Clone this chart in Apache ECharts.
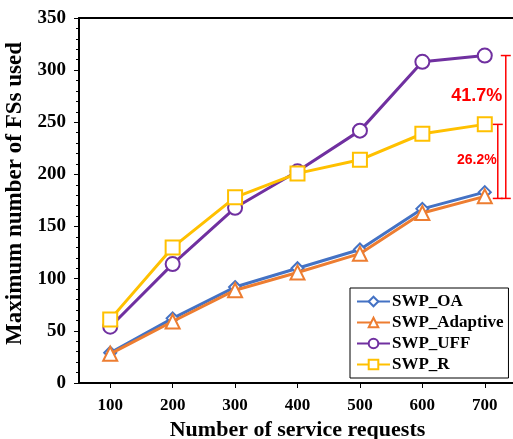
<!DOCTYPE html>
<html>
<head>
<meta charset="utf-8">
<script src="https://cdn.jsdelivr.net/npm/echarts@6/dist/echarts.min.js"></script>
<style>
html,body{margin:0;padding:0;background:#fff;}
#c{width:513px;height:439px;}
</style>
</head>
<body>
<div id="c"></div>
<script>
const categories = ['100', '200', '300', '400', '500', '600', '700'];
const swpOA = [29, 62, 92, 110, 128, 167, 183];
const swpAdaptive = [28, 59, 89, 106, 124, 163, 179];
const swpUFF = [54, 114, 168, 203, 242, 308, 314];
const swpR = [61, 130, 178, 201, 214, 239, 248];
const yMin = 0, yMax = 350, yStep = 50;
const bracketBase = 177;
const seriesNames = ['SWP_OA', 'SWP_Adaptive', 'SWP_UFF', 'SWP_R'];

const last = categories.length - 1;
const gainUFF = ((swpUFF[last] - swpOA[last]) / swpUFF[last] * 100).toFixed(1) + '%';
const gainR = ((swpR[last] - swpOA[last]) / swpR[last] * 100).toFixed(1) + '%';
const brackets = [
  [categories[last], swpUFF[last], bracketBase, gainUFF],
  [categories[last], swpR[last], bracketBase, gainR]
];

const serif = '"Liberation Serif", "Times New Roman", serif';
const sans = '"Liberation Sans", Arial, sans-serif';
const colors = ['#4472C4', '#ED7D31', '#7030A0', '#FFC000'];
const symbols = ['diamond', 'triangle', 'circle', 'rect'];
const sizes = [12, 14, 14, 14];
const values = [swpOA, swpAdaptive, swpUFF, swpR];

const bracketStyle = [
  {dx: 21, lx: -8, ly: 40, fs: 18},
  {dx: 13, lx: -8, ly: 36, fs: 14}
];

const chart = echarts.init(document.getElementById('c'), null, {renderer: 'canvas'});

const lineSeries = seriesNames.map((n, i) => ({
  name: n,
  type: 'line',
  data: values[i],
  symbol: symbols[i],
  symbolSize: sizes[i],
  showAllSymbol: true,
  z: 2 + i,
  lineStyle: {color: colors[i], width: 3},
  itemStyle: {color: '#fff', borderColor: colors[i], borderWidth: 2},
  emphasis: {disabled: true},
  animation: false
}));

const option = {
  animation: false,
  backgroundColor: '#fff',
  grid: {left: 79, top: 18, bottom: 56, right: -3, outerBoundsMode: 'none', containLabel: false},
  legend: {
    orient: 'vertical',
    left: 350, top: 288,
    padding: [5, 5, 5, 6],
    itemGap: 4,
    itemWidth: 33, itemHeight: 12,
    borderColor: '#000', borderWidth: 1, borderRadius: 0,
    backgroundColor: '#fff',
    textStyle: {fontFamily: serif, fontWeight: 'bold', fontSize: 17, color: '#000', padding: [0,0,0,-3]},
    data: seriesNames
  },
  xAxis: [{
    type: 'category',
    data: categories,
    boundaryGap: true,
    name: 'Number of service requests',
    nameLocation: 'middle',
    nameGap: 33,
    nameTextStyle: {fontFamily: serif, fontWeight: 'bold', fontSize: 22, color: '#000'},
    axisLine: {show: true, lineStyle: {color: '#000', width: 2}},
    axisTick: {show: true, alignWithLabel: true, inside: false, length: 5, lineStyle: {color: '#000', width: 1}},
    axisLabel: {fontFamily: serif, fontWeight: 'bold', fontSize: 17, color: '#000', margin: 14},
    splitLine: {show: false}
  }, {
    type: 'category',
    data: categories,
    position: 'top',
    axisLine: {show: true, lineStyle: {color: '#000', width: 2}},
    axisTick: {show: false},
    axisLabel: {show: false},
    splitLine: {show: false}
  }],
  yAxis: {
    type: 'value',
    min: yMin, max: yMax, interval: yStep,
    name: 'Maximum number of FSs used',
    nameLocation: 'middle',
    nameGap: 38,
    nameTextStyle: {fontFamily: serif, fontWeight: 'bold', fontSize: 23, color: '#000', padding: [0, 0, 0, 14]},
    axisLine: {show: true, lineStyle: {color: '#000', width: 2}},
    axisTick: {show: true, inside: false, length: 5, lineStyle: {color: '#000'}},
    minorTick: {show: true, splitNumber: 5, length: 3, lineStyle: {color: '#000'}},
    axisLabel: {fontFamily: serif, fontWeight: 'bold', fontSize: 19, color: '#000', margin: 13},
    splitLine: {show: false}
  },
  series: lineSeries.concat([{
    type: 'custom',
    name: 'brackets',
    clip: false,
    z: 10,
    data: brackets,
    encode: {x: 0, y: 1},
    renderItem: function (params, api) {
      const s = bracketStyle[params.dataIndex];
      const top = api.coord([api.value(0), api.value(1)]);
      const bot = api.coord([api.value(0), api.value(2)]);
      const x = top[0] + s.dx;
      const w = 5;
      const st = {stroke: '#FF0000', lineWidth: 1.5};
      return {
        type: 'group',
        children: [
          {type: 'line', shape: {x1: x, y1: top[1], x2: x, y2: bot[1]}, style: st},
          {type: 'line', shape: {x1: x - w, y1: top[1], x2: x + w, y2: top[1]}, style: st},
          {type: 'line', shape: {x1: x - w, y1: bot[1], x2: x + w, y2: bot[1]}, style: st},
          {type: 'text', x: top[0] + s.lx, y: top[1] + s.ly,
           style: {text: api.value(3), fill: '#FF0000', font: 'bold ' + s.fs + 'px ' + sans, align: 'center', verticalAlign: 'middle'}}
        ]
      };
    },
    animation: false
  }])
};
chart.setOption(option);
</script>
</body>
</html>
